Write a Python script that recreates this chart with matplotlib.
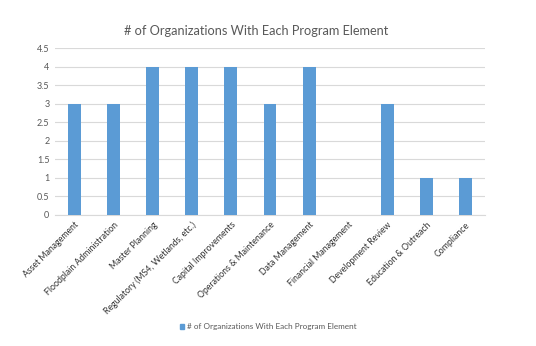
import matplotlib
matplotlib.use("Agg")
import matplotlib.pyplot as plt
from matplotlib.patches import Patch

categories = ["Asset Management", "Floodplain Administration", "Master Planning",
              "Regulatory (MS4, Wetlands, etc.)", "Capital Improvements",
              "Operations & Maintenance", "Data Management", "Financial Management",
              "Development Review", "Education & Outreach", "Compliance"]
values = [3, 3, 4, 4, 4, 3, 4, 0, 3, 1, 1]
yticks = [0, 0.5, 1, 1.5, 2, 2.5, 3, 3.5, 4, 4.5]
ytick_labels = ["0", "0.5", "1", "1.5", "2", "2.5", "3", "3.5", "4", "4.5"]
series_name = "# of Organizations With Each Program Element"

plt.rcParams['font.family'] = ['Lato', 'DejaVu Sans']
fig = plt.figure(figsize=(5.36, 3.46), dpi=100)
ax = fig.add_axes([55/536, 1 - 215/346, 430/536, 167/346])
x = list(range(len(categories)))
ax.bar(x, values, width=0.33, color="#5B9BD5", zorder=3)
ax.set_xlim(-0.5, len(categories) - 0.5)
ax.set_ylim(0, 4.5)
ax.set_yticks(yticks)
ax.set_yticklabels(ytick_labels, fontsize=6.5, color="#595959")
ax.set_xticks(x)
ax.set_xticklabels(categories, rotation=45, ha="right", rotation_mode="anchor",
                   fontsize=6.3, color="#333333")
ax.tick_params(axis="both", length=0, pad=4)
ax.grid(axis="y", color="#D9D9D9", linewidth=0.8, zorder=0)
for s in ["top", "right", "left"]:
    ax.spines[s].set_visible(False)
ax.spines["bottom"].set_color("#D9D9D9")
ax.spines["bottom"].set_linewidth(0.8)
fig.text(256/536, 1 - 31/346, series_name, ha="center", va="center",
         fontsize=9.2, color="#595959")
leg = fig.legend(handles=[Patch(color="#5B9BD5", label=series_name)],
                 loc="center", bbox_to_anchor=(268/536, 1 - 327/346),
                 frameon=False, fontsize=5.9, handlelength=0.6, handleheight=0.6,
                 handletextpad=0.3)
for t in leg.get_texts():
    t.set_color("#595959")
fig.savefig("out.png", dpi=100, facecolor="white")
